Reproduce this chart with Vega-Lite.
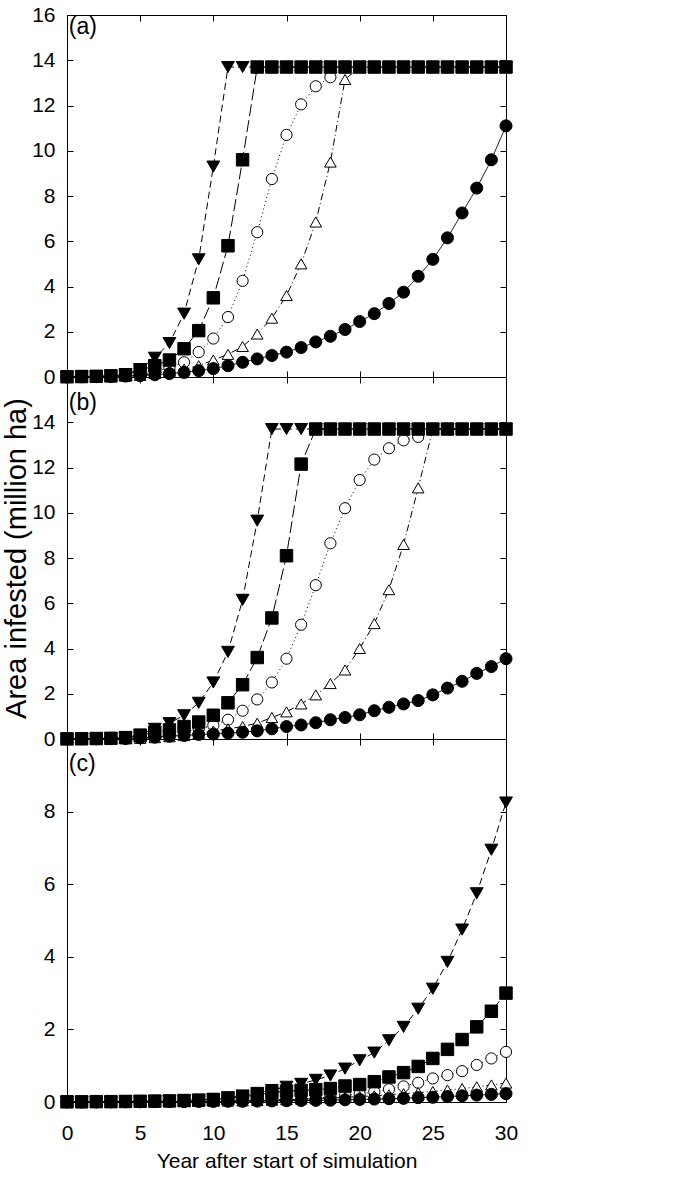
{
"$schema": "https://vega.github.io/schema/vega-lite/v6.json",
"padding": {"left": 2, "top": 3, "right": 5, "bottom": 5},
"background": "white",
"spacing": 0,
"bounds": "flush",
"config": {
  "font": "Liberation Sans",
  "view": {"stroke": "black", "strokeWidth": 1},
  "axis": {"grid": false, "domainColor": "black", "tickColor": "black", "tickSize": -6, "labelFlush": false, "labelColor": "black", "titleColor": "black", "labelFont": "Liberation Sans", "titleFont": "Liberation Sans", "labelFontSize": 21, "titleFontWeight": "normal"}
},
"datasets": {"d": [
{"p":"a","s":"co","t":0,"v":0.005},{"p":"a","s":"co","t":1,"v":0.01},{"p":"a","s":"co","t":2,"v":0.02},{"p":"a","s":"co","t":3,"v":0.03},{"p":"a","s":"co","t":4,"v":0.05},{"p":"a","s":"co","t":5,"v":0.1},{"p":"a","s":"co","t":6,"v":0.25},{"p":"a","s":"co","t":7,"v":0.4},{"p":"a","s":"co","t":8,"v":0.65},{"p":"a","s":"co","t":9,"v":1.1},{"p":"a","s":"co","t":10,"v":1.7},{"p":"a","s":"co","t":11,"v":2.65},{"p":"a","s":"co","t":12,"v":4.25},{"p":"a","s":"co","t":13,"v":6.4},{"p":"a","s":"co","t":14,"v":8.75},{"p":"a","s":"co","t":15,"v":10.7},{"p":"a","s":"co","t":16,"v":12.05},{"p":"a","s":"co","t":17,"v":12.85},{"p":"a","s":"co","t":18,"v":13.25},{"p":"a","s":"co","t":19,"v":13.7},{"p":"a","s":"co","t":20,"v":13.7},{"p":"a","s":"co","t":21,"v":13.7},{"p":"a","s":"co","t":22,"v":13.7},{"p":"a","s":"co","t":23,"v":13.7},{"p":"a","s":"co","t":24,"v":13.7},{"p":"a","s":"co","t":25,"v":13.7},{"p":"a","s":"co","t":26,"v":13.7},{"p":"a","s":"co","t":27,"v":13.7},{"p":"a","s":"co","t":28,"v":13.7},{"p":"a","s":"co","t":29,"v":13.7},{"p":"a","s":"co","t":30,"v":13.7},
{"p":"a","s":"to","t":0,"v":0.005},{"p":"a","s":"to","t":1,"v":0.01},{"p":"a","s":"to","t":2,"v":0.015},{"p":"a","s":"to","t":3,"v":0.02},{"p":"a","s":"to","t":4,"v":0.04},{"p":"a","s":"to","t":5,"v":0.07},{"p":"a","s":"to","t":6,"v":0.15},{"p":"a","s":"to","t":7,"v":0.25},{"p":"a","s":"to","t":8,"v":0.35},{"p":"a","s":"to","t":9,"v":0.5},{"p":"a","s":"to","t":10,"v":0.75},{"p":"a","s":"to","t":11,"v":1.0},{"p":"a","s":"to","t":12,"v":1.35},{"p":"a","s":"to","t":13,"v":1.9},{"p":"a","s":"to","t":14,"v":2.6},{"p":"a","s":"to","t":15,"v":3.6},{"p":"a","s":"to","t":16,"v":5.0},{"p":"a","s":"to","t":17,"v":6.85},{"p":"a","s":"to","t":18,"v":9.5},{"p":"a","s":"to","t":19,"v":13.15},{"p":"a","s":"to","t":20,"v":13.7},{"p":"a","s":"to","t":21,"v":13.7},{"p":"a","s":"to","t":22,"v":13.7},{"p":"a","s":"to","t":23,"v":13.7},{"p":"a","s":"to","t":24,"v":13.7},{"p":"a","s":"to","t":25,"v":13.7},{"p":"a","s":"to","t":26,"v":13.7},{"p":"a","s":"to","t":27,"v":13.7},{"p":"a","s":"to","t":28,"v":13.7},{"p":"a","s":"to","t":29,"v":13.7},{"p":"a","s":"to","t":30,"v":13.7},
{"p":"a","s":"cf","t":0,"v":0.005},{"p":"a","s":"cf","t":1,"v":0.01},{"p":"a","s":"cf","t":2,"v":0.015},{"p":"a","s":"cf","t":3,"v":0.02},{"p":"a","s":"cf","t":4,"v":0.04},{"p":"a","s":"cf","t":5,"v":0.06},{"p":"a","s":"cf","t":6,"v":0.1},{"p":"a","s":"cf","t":7,"v":0.15},{"p":"a","s":"cf","t":8,"v":0.2},{"p":"a","s":"cf","t":9,"v":0.28},{"p":"a","s":"cf","t":10,"v":0.37},{"p":"a","s":"cf","t":11,"v":0.5},{"p":"a","s":"cf","t":12,"v":0.65},{"p":"a","s":"cf","t":13,"v":0.8},{"p":"a","s":"cf","t":14,"v":0.95},{"p":"a","s":"cf","t":15,"v":1.1},{"p":"a","s":"cf","t":16,"v":1.3},{"p":"a","s":"cf","t":17,"v":1.55},{"p":"a","s":"cf","t":18,"v":1.8},{"p":"a","s":"cf","t":19,"v":2.1},{"p":"a","s":"cf","t":20,"v":2.45},{"p":"a","s":"cf","t":21,"v":2.8},{"p":"a","s":"cf","t":22,"v":3.25},{"p":"a","s":"cf","t":23,"v":3.75},{"p":"a","s":"cf","t":24,"v":4.45},{"p":"a","s":"cf","t":25,"v":5.2},{"p":"a","s":"cf","t":26,"v":6.15},{"p":"a","s":"cf","t":27,"v":7.25},{"p":"a","s":"cf","t":28,"v":8.35},{"p":"a","s":"cf","t":29,"v":9.6},{"p":"a","s":"cf","t":30,"v":11.1},
{"p":"a","s":"sq","t":0,"v":0.01},{"p":"a","s":"sq","t":1,"v":0.02},{"p":"a","s":"sq","t":2,"v":0.03},{"p":"a","s":"sq","t":3,"v":0.05},{"p":"a","s":"sq","t":4,"v":0.1},{"p":"a","s":"sq","t":5,"v":0.3},{"p":"a","s":"sq","t":6,"v":0.5},{"p":"a","s":"sq","t":7,"v":0.75},{"p":"a","s":"sq","t":8,"v":1.25},{"p":"a","s":"sq","t":9,"v":2.05},{"p":"a","s":"sq","t":10,"v":3.5},{"p":"a","s":"sq","t":11,"v":5.8},{"p":"a","s":"sq","t":12,"v":9.6},{"p":"a","s":"sq","t":13,"v":13.7},{"p":"a","s":"sq","t":14,"v":13.7},{"p":"a","s":"sq","t":15,"v":13.7},{"p":"a","s":"sq","t":16,"v":13.7},{"p":"a","s":"sq","t":17,"v":13.7},{"p":"a","s":"sq","t":18,"v":13.7},{"p":"a","s":"sq","t":19,"v":13.7},{"p":"a","s":"sq","t":20,"v":13.7},{"p":"a","s":"sq","t":21,"v":13.7},{"p":"a","s":"sq","t":22,"v":13.7},{"p":"a","s":"sq","t":23,"v":13.7},{"p":"a","s":"sq","t":24,"v":13.7},{"p":"a","s":"sq","t":25,"v":13.7},{"p":"a","s":"sq","t":26,"v":13.7},{"p":"a","s":"sq","t":27,"v":13.7},{"p":"a","s":"sq","t":28,"v":13.7},{"p":"a","s":"sq","t":29,"v":13.7},{"p":"a","s":"sq","t":30,"v":13.7},
{"p":"a","s":"td","t":0,"v":0.01},{"p":"a","s":"td","t":1,"v":0.02},{"p":"a","s":"td","t":2,"v":0.03},{"p":"a","s":"td","t":3,"v":0.06},{"p":"a","s":"td","t":4,"v":0.12},{"p":"a","s":"td","t":5,"v":0.35},{"p":"a","s":"td","t":6,"v":0.85},{"p":"a","s":"td","t":7,"v":1.5},{"p":"a","s":"td","t":8,"v":2.8},{"p":"a","s":"td","t":9,"v":5.2},{"p":"a","s":"td","t":10,"v":9.3},{"p":"a","s":"td","t":11,"v":13.7},{"p":"a","s":"td","t":12,"v":13.7},{"p":"a","s":"td","t":13,"v":13.7},{"p":"a","s":"td","t":14,"v":13.7},{"p":"a","s":"td","t":15,"v":13.7},{"p":"a","s":"td","t":16,"v":13.7},{"p":"a","s":"td","t":17,"v":13.7},{"p":"a","s":"td","t":18,"v":13.7},{"p":"a","s":"td","t":19,"v":13.7},{"p":"a","s":"td","t":20,"v":13.7},{"p":"a","s":"td","t":21,"v":13.7},{"p":"a","s":"td","t":22,"v":13.7},{"p":"a","s":"td","t":23,"v":13.7},{"p":"a","s":"td","t":24,"v":13.7},{"p":"a","s":"td","t":25,"v":13.7},{"p":"a","s":"td","t":26,"v":13.7},{"p":"a","s":"td","t":27,"v":13.7},{"p":"a","s":"td","t":28,"v":13.7},{"p":"a","s":"td","t":29,"v":13.7},{"p":"a","s":"td","t":30,"v":13.7},
{"p":"b","s":"co","t":0,"v":0.005},{"p":"b","s":"co","t":1,"v":0.01},{"p":"b","s":"co","t":2,"v":0.015},{"p":"b","s":"co","t":3,"v":0.02},{"p":"b","s":"co","t":4,"v":0.03},{"p":"b","s":"co","t":5,"v":0.05},{"p":"b","s":"co","t":6,"v":0.1},{"p":"b","s":"co","t":7,"v":0.2},{"p":"b","s":"co","t":8,"v":0.3},{"p":"b","s":"co","t":9,"v":0.45},{"p":"b","s":"co","t":10,"v":0.6},{"p":"b","s":"co","t":11,"v":0.85},{"p":"b","s":"co","t":12,"v":1.25},{"p":"b","s":"co","t":13,"v":1.75},{"p":"b","s":"co","t":14,"v":2.5},{"p":"b","s":"co","t":15,"v":3.55},{"p":"b","s":"co","t":16,"v":5.05},{"p":"b","s":"co","t":17,"v":6.8},{"p":"b","s":"co","t":18,"v":8.65},{"p":"b","s":"co","t":19,"v":10.2},{"p":"b","s":"co","t":20,"v":11.45},{"p":"b","s":"co","t":21,"v":12.35},{"p":"b","s":"co","t":22,"v":12.85},{"p":"b","s":"co","t":23,"v":13.2},{"p":"b","s":"co","t":24,"v":13.35},{"p":"b","s":"co","t":25,"v":13.7},{"p":"b","s":"co","t":26,"v":13.7},{"p":"b","s":"co","t":27,"v":13.7},{"p":"b","s":"co","t":28,"v":13.7},{"p":"b","s":"co","t":29,"v":13.7},{"p":"b","s":"co","t":30,"v":13.7},
{"p":"b","s":"to","t":0,"v":0.005},{"p":"b","s":"to","t":1,"v":0.01},{"p":"b","s":"to","t":2,"v":0.01},{"p":"b","s":"to","t":3,"v":0.015},{"p":"b","s":"to","t":4,"v":0.02},{"p":"b","s":"to","t":5,"v":0.03},{"p":"b","s":"to","t":6,"v":0.06},{"p":"b","s":"to","t":7,"v":0.1},{"p":"b","s":"to","t":8,"v":0.15},{"p":"b","s":"to","t":9,"v":0.25},{"p":"b","s":"to","t":10,"v":0.35},{"p":"b","s":"to","t":11,"v":0.45},{"p":"b","s":"to","t":12,"v":0.55},{"p":"b","s":"to","t":13,"v":0.7},{"p":"b","s":"to","t":14,"v":0.95},{"p":"b","s":"to","t":15,"v":1.2},{"p":"b","s":"to","t":16,"v":1.55},{"p":"b","s":"to","t":17,"v":1.95},{"p":"b","s":"to","t":18,"v":2.45},{"p":"b","s":"to","t":19,"v":3.05},{"p":"b","s":"to","t":20,"v":4.0},{"p":"b","s":"to","t":21,"v":5.1},{"p":"b","s":"to","t":22,"v":6.6},{"p":"b","s":"to","t":23,"v":8.6},{"p":"b","s":"to","t":24,"v":11.1},{"p":"b","s":"to","t":25,"v":13.7},{"p":"b","s":"to","t":26,"v":13.7},{"p":"b","s":"to","t":27,"v":13.7},{"p":"b","s":"to","t":28,"v":13.7},{"p":"b","s":"to","t":29,"v":13.7},{"p":"b","s":"to","t":30,"v":13.7},
{"p":"b","s":"cf","t":0,"v":0.005},{"p":"b","s":"cf","t":1,"v":0.01},{"p":"b","s":"cf","t":2,"v":0.01},{"p":"b","s":"cf","t":3,"v":0.015},{"p":"b","s":"cf","t":4,"v":0.02},{"p":"b","s":"cf","t":5,"v":0.05},{"p":"b","s":"cf","t":6,"v":0.08},{"p":"b","s":"cf","t":7,"v":0.12},{"p":"b","s":"cf","t":8,"v":0.16},{"p":"b","s":"cf","t":9,"v":0.2},{"p":"b","s":"cf","t":10,"v":0.22},{"p":"b","s":"cf","t":11,"v":0.26},{"p":"b","s":"cf","t":12,"v":0.3},{"p":"b","s":"cf","t":13,"v":0.36},{"p":"b","s":"cf","t":14,"v":0.45},{"p":"b","s":"cf","t":15,"v":0.55},{"p":"b","s":"cf","t":16,"v":0.62},{"p":"b","s":"cf","t":17,"v":0.72},{"p":"b","s":"cf","t":18,"v":0.85},{"p":"b","s":"cf","t":19,"v":0.95},{"p":"b","s":"cf","t":20,"v":1.07},{"p":"b","s":"cf","t":21,"v":1.25},{"p":"b","s":"cf","t":22,"v":1.4},{"p":"b","s":"cf","t":23,"v":1.55},{"p":"b","s":"cf","t":24,"v":1.7},{"p":"b","s":"cf","t":25,"v":1.95},{"p":"b","s":"cf","t":26,"v":2.25},{"p":"b","s":"cf","t":27,"v":2.55},{"p":"b","s":"cf","t":28,"v":2.9},{"p":"b","s":"cf","t":29,"v":3.2},{"p":"b","s":"cf","t":30,"v":3.55},
{"p":"b","s":"sq","t":0,"v":0.005},{"p":"b","s":"sq","t":1,"v":0.01},{"p":"b","s":"sq","t":2,"v":0.02},{"p":"b","s":"sq","t":3,"v":0.03},{"p":"b","s":"sq","t":4,"v":0.06},{"p":"b","s":"sq","t":5,"v":0.15},{"p":"b","s":"sq","t":6,"v":0.3},{"p":"b","s":"sq","t":7,"v":0.4},{"p":"b","s":"sq","t":8,"v":0.55},{"p":"b","s":"sq","t":9,"v":0.75},{"p":"b","s":"sq","t":10,"v":1.05},{"p":"b","s":"sq","t":11,"v":1.6},{"p":"b","s":"sq","t":12,"v":2.4},{"p":"b","s":"sq","t":13,"v":3.6},{"p":"b","s":"sq","t":14,"v":5.35},{"p":"b","s":"sq","t":15,"v":8.1},{"p":"b","s":"sq","t":16,"v":12.15},{"p":"b","s":"sq","t":17,"v":13.7},{"p":"b","s":"sq","t":18,"v":13.7},{"p":"b","s":"sq","t":19,"v":13.7},{"p":"b","s":"sq","t":20,"v":13.7},{"p":"b","s":"sq","t":21,"v":13.7},{"p":"b","s":"sq","t":22,"v":13.7},{"p":"b","s":"sq","t":23,"v":13.7},{"p":"b","s":"sq","t":24,"v":13.7},{"p":"b","s":"sq","t":25,"v":13.7},{"p":"b","s":"sq","t":26,"v":13.7},{"p":"b","s":"sq","t":27,"v":13.7},{"p":"b","s":"sq","t":28,"v":13.7},{"p":"b","s":"sq","t":29,"v":13.7},{"p":"b","s":"sq","t":30,"v":13.7},
{"p":"b","s":"td","t":0,"v":0.005},{"p":"b","s":"td","t":1,"v":0.01},{"p":"b","s":"td","t":2,"v":0.02},{"p":"b","s":"td","t":3,"v":0.04},{"p":"b","s":"td","t":4,"v":0.08},{"p":"b","s":"td","t":5,"v":0.2},{"p":"b","s":"td","t":6,"v":0.45},{"p":"b","s":"td","t":7,"v":0.7},{"p":"b","s":"td","t":8,"v":1.05},{"p":"b","s":"td","t":9,"v":1.6},{"p":"b","s":"td","t":10,"v":2.5},{"p":"b","s":"td","t":11,"v":3.85},{"p":"b","s":"td","t":12,"v":6.15},{"p":"b","s":"td","t":13,"v":9.65},{"p":"b","s":"td","t":14,"v":13.7},{"p":"b","s":"td","t":15,"v":13.7},{"p":"b","s":"td","t":16,"v":13.7},{"p":"b","s":"td","t":17,"v":13.7},{"p":"b","s":"td","t":18,"v":13.7},{"p":"b","s":"td","t":19,"v":13.7},{"p":"b","s":"td","t":20,"v":13.7},{"p":"b","s":"td","t":21,"v":13.7},{"p":"b","s":"td","t":22,"v":13.7},{"p":"b","s":"td","t":23,"v":13.7},{"p":"b","s":"td","t":24,"v":13.7},{"p":"b","s":"td","t":25,"v":13.7},{"p":"b","s":"td","t":26,"v":13.7},{"p":"b","s":"td","t":27,"v":13.7},{"p":"b","s":"td","t":28,"v":13.7},{"p":"b","s":"td","t":29,"v":13.7},{"p":"b","s":"td","t":30,"v":13.7},
{"p":"c","s":"co","t":0,"v":0},{"p":"c","s":"co","t":1,"v":0},{"p":"c","s":"co","t":2,"v":0.005},{"p":"c","s":"co","t":3,"v":0.005},{"p":"c","s":"co","t":4,"v":0.01},{"p":"c","s":"co","t":5,"v":0.01},{"p":"c","s":"co","t":6,"v":0.01},{"p":"c","s":"co","t":7,"v":0.015},{"p":"c","s":"co","t":8,"v":0.02},{"p":"c","s":"co","t":9,"v":0.025},{"p":"c","s":"co","t":10,"v":0.03},{"p":"c","s":"co","t":11,"v":0.035},{"p":"c","s":"co","t":12,"v":0.04},{"p":"c","s":"co","t":13,"v":0.05},{"p":"c","s":"co","t":14,"v":0.06},{"p":"c","s":"co","t":15,"v":0.07},{"p":"c","s":"co","t":16,"v":0.09},{"p":"c","s":"co","t":17,"v":0.11},{"p":"c","s":"co","t":18,"v":0.14},{"p":"c","s":"co","t":19,"v":0.18},{"p":"c","s":"co","t":20,"v":0.22},{"p":"c","s":"co","t":21,"v":0.28},{"p":"c","s":"co","t":22,"v":0.35},{"p":"c","s":"co","t":23,"v":0.43},{"p":"c","s":"co","t":24,"v":0.53},{"p":"c","s":"co","t":25,"v":0.65},{"p":"c","s":"co","t":26,"v":0.74},{"p":"c","s":"co","t":27,"v":0.85},{"p":"c","s":"co","t":28,"v":1.02},{"p":"c","s":"co","t":29,"v":1.2},{"p":"c","s":"co","t":30,"v":1.38},
{"p":"c","s":"to","t":0,"v":0},{"p":"c","s":"to","t":1,"v":0},{"p":"c","s":"to","t":2,"v":0.005},{"p":"c","s":"to","t":3,"v":0.005},{"p":"c","s":"to","t":4,"v":0.005},{"p":"c","s":"to","t":5,"v":0.01},{"p":"c","s":"to","t":6,"v":0.01},{"p":"c","s":"to","t":7,"v":0.01},{"p":"c","s":"to","t":8,"v":0.015},{"p":"c","s":"to","t":9,"v":0.02},{"p":"c","s":"to","t":10,"v":0.02},{"p":"c","s":"to","t":11,"v":0.025},{"p":"c","s":"to","t":12,"v":0.03},{"p":"c","s":"to","t":13,"v":0.04},{"p":"c","s":"to","t":14,"v":0.05},{"p":"c","s":"to","t":15,"v":0.06},{"p":"c","s":"to","t":16,"v":0.08},{"p":"c","s":"to","t":17,"v":0.09},{"p":"c","s":"to","t":18,"v":0.11},{"p":"c","s":"to","t":19,"v":0.13},{"p":"c","s":"to","t":20,"v":0.15},{"p":"c","s":"to","t":21,"v":0.17},{"p":"c","s":"to","t":22,"v":0.2},{"p":"c","s":"to","t":23,"v":0.23},{"p":"c","s":"to","t":24,"v":0.26},{"p":"c","s":"to","t":25,"v":0.29},{"p":"c","s":"to","t":26,"v":0.33},{"p":"c","s":"to","t":27,"v":0.37},{"p":"c","s":"to","t":28,"v":0.42},{"p":"c","s":"to","t":29,"v":0.47},{"p":"c","s":"to","t":30,"v":0.52},
{"p":"c","s":"cf","t":0,"v":0},{"p":"c","s":"cf","t":1,"v":0},{"p":"c","s":"cf","t":2,"v":0},{"p":"c","s":"cf","t":3,"v":0.005},{"p":"c","s":"cf","t":4,"v":0.005},{"p":"c","s":"cf","t":5,"v":0.005},{"p":"c","s":"cf","t":6,"v":0.01},{"p":"c","s":"cf","t":7,"v":0.01},{"p":"c","s":"cf","t":8,"v":0.01},{"p":"c","s":"cf","t":9,"v":0.015},{"p":"c","s":"cf","t":10,"v":0.015},{"p":"c","s":"cf","t":11,"v":0.02},{"p":"c","s":"cf","t":12,"v":0.02},{"p":"c","s":"cf","t":13,"v":0.025},{"p":"c","s":"cf","t":14,"v":0.03},{"p":"c","s":"cf","t":15,"v":0.035},{"p":"c","s":"cf","t":16,"v":0.04},{"p":"c","s":"cf","t":17,"v":0.045},{"p":"c","s":"cf","t":18,"v":0.05},{"p":"c","s":"cf","t":19,"v":0.06},{"p":"c","s":"cf","t":20,"v":0.07},{"p":"c","s":"cf","t":21,"v":0.08},{"p":"c","s":"cf","t":22,"v":0.09},{"p":"c","s":"cf","t":23,"v":0.1},{"p":"c","s":"cf","t":24,"v":0.12},{"p":"c","s":"cf","t":25,"v":0.13},{"p":"c","s":"cf","t":26,"v":0.15},{"p":"c","s":"cf","t":27,"v":0.17},{"p":"c","s":"cf","t":28,"v":0.19},{"p":"c","s":"cf","t":29,"v":0.21},{"p":"c","s":"cf","t":30,"v":0.23},
{"p":"c","s":"sq","t":0,"v":0.005},{"p":"c","s":"sq","t":1,"v":0.005},{"p":"c","s":"sq","t":2,"v":0.01},{"p":"c","s":"sq","t":3,"v":0.01},{"p":"c","s":"sq","t":4,"v":0.015},{"p":"c","s":"sq","t":5,"v":0.02},{"p":"c","s":"sq","t":6,"v":0.025},{"p":"c","s":"sq","t":7,"v":0.03},{"p":"c","s":"sq","t":8,"v":0.04},{"p":"c","s":"sq","t":9,"v":0.05},{"p":"c","s":"sq","t":10,"v":0.07},{"p":"c","s":"sq","t":11,"v":0.1},{"p":"c","s":"sq","t":12,"v":0.14},{"p":"c","s":"sq","t":13,"v":0.2},{"p":"c","s":"sq","t":14,"v":0.26},{"p":"c","s":"sq","t":15,"v":0.3},{"p":"c","s":"sq","t":16,"v":0.32},{"p":"c","s":"sq","t":17,"v":0.34},{"p":"c","s":"sq","t":18,"v":0.37},{"p":"c","s":"sq","t":19,"v":0.44},{"p":"c","s":"sq","t":20,"v":0.48},{"p":"c","s":"sq","t":21,"v":0.56},{"p":"c","s":"sq","t":22,"v":0.69},{"p":"c","s":"sq","t":23,"v":0.81},{"p":"c","s":"sq","t":24,"v":0.98},{"p":"c","s":"sq","t":25,"v":1.2},{"p":"c","s":"sq","t":26,"v":1.45},{"p":"c","s":"sq","t":27,"v":1.72},{"p":"c","s":"sq","t":28,"v":2.07},{"p":"c","s":"sq","t":29,"v":2.5},{"p":"c","s":"sq","t":30,"v":3.0},
{"p":"c","s":"td","t":0,"v":0.005},{"p":"c","s":"td","t":1,"v":0.005},{"p":"c","s":"td","t":2,"v":0.01},{"p":"c","s":"td","t":3,"v":0.01},{"p":"c","s":"td","t":4,"v":0.015},{"p":"c","s":"td","t":5,"v":0.02},{"p":"c","s":"td","t":6,"v":0.025},{"p":"c","s":"td","t":7,"v":0.03},{"p":"c","s":"td","t":8,"v":0.04},{"p":"c","s":"td","t":9,"v":0.06},{"p":"c","s":"td","t":10,"v":0.08},{"p":"c","s":"td","t":11,"v":0.13},{"p":"c","s":"td","t":12,"v":0.18},{"p":"c","s":"td","t":13,"v":0.25},{"p":"c","s":"td","t":14,"v":0.33},{"p":"c","s":"td","t":15,"v":0.42},{"p":"c","s":"td","t":16,"v":0.5},{"p":"c","s":"td","t":17,"v":0.61},{"p":"c","s":"td","t":18,"v":0.73},{"p":"c","s":"td","t":19,"v":0.92},{"p":"c","s":"td","t":20,"v":1.15},{"p":"c","s":"td","t":21,"v":1.36},{"p":"c","s":"td","t":22,"v":1.7},{"p":"c","s":"td","t":23,"v":2.07},{"p":"c","s":"td","t":24,"v":2.57},{"p":"c","s":"td","t":25,"v":3.12},{"p":"c","s":"td","t":26,"v":3.86},{"p":"c","s":"td","t":27,"v":4.75},{"p":"c","s":"td","t":28,"v":5.75},{"p":"c","s":"td","t":29,"v":6.95},{"p":"c","s":"td","t":30,"v":8.25}
]},
"vconcat": [
{
  "width": 439, "height": 362,
  "data": {"name": "d"},
  "transform": [{"filter": "datum.p === 'a'"}],
  "layer": [
    {"mark": {"type": "line", "strokeWidth": 1, "color": "black"},
     "encoding": {
       "x": {"field": "t", "type": "quantitative", "scale": {"domain": [0, 30], "nice": false}, "axis": {"orient": "bottom", "values": [0,5,10,15,20,25,30], "labels": false, "title": null}},
       "y": {"field": "v", "type": "quantitative", "scale": {"domain": [0, 16], "nice": false}, "axis": {"orient": "left", "values": [0,2,4,6,8,10,12,14,16], "title": null, "labelPadding": 18}},
       "strokeDash": {"field": "s", "type": "nominal", "scale": {"domain": ["co","to","cf","sq","td"], "range": [[1,3],[7,3,1,3],[1,0],[12,4],[7,4]]}, "legend": null}
     }},
    {"mark": {"type": "point", "filled": true, "opacity": 1, "stroke": "black", "strokeWidth": 1},
     "encoding": {
       "x": {"field": "t", "type": "quantitative", "axis": {"orient": "top", "values": [0,5,10,15,20,25,30], "labels": false, "title": null}},
       "y": {"field": "v", "type": "quantitative", "axis": {"orient": "right", "values": [0,2,4,6,8,10,12,14,16], "labels": false, "title": null}},
       "shape": {"field": "s", "type": "nominal", "scale": {"domain": ["co","to","cf","sq","td"], "range": ["circle","triangle-up","circle","square","triangle-down"]}, "legend": null},
       "fill": {"field": "s", "type": "nominal", "scale": {"domain": ["co","to","cf","sq","td"], "range": ["white","white","black","black","black"]}, "legend": null},
       "size": {"field": "s", "type": "nominal", "scale": {"domain": ["co","to","cf","sq","td"], "range": [125,165,125,135,175]}, "legend": null}
     }},
    {"data": {"values": [{}]},
     "mark": {"type": "text", "align": "left", "baseline": "middle", "fontSize": 23, "color": "black"},
     "encoding": {"x": {"datum": 0.12, "type": "quantitative", "axis": null}, "y": {"datum": 15.45, "type": "quantitative", "axis": null}, "text": {"value": "(a)"}}}
  ],
  "resolve": {"axis": {"x": "independent", "y": "independent"}}
},
{
  "width": 439, "height": 362,
  "data": {"name": "d"},
  "transform": [{"filter": "datum.p === 'b'"}],
  "layer": [
    {"mark": {"type": "line", "strokeWidth": 1, "color": "black"},
     "encoding": {
       "x": {"field": "t", "type": "quantitative", "scale": {"domain": [0, 30], "nice": false}, "axis": {"orient": "bottom", "values": [0,5,10,15,20,25,30], "labels": false, "title": null}},
       "y": {"field": "v", "type": "quantitative", "scale": {"domain": [0, 16], "nice": false}, "axis": {"orient": "left", "values": [0,2,4,6,8,10,12,14], "title": "Area infested (million ha)", "titleFontSize": 29, "titlePadding": 0, "labelPadding": 18}},
       "strokeDash": {"field": "s", "type": "nominal", "scale": {"domain": ["co","to","cf","sq","td"], "range": [[1,3],[7,3,1,3],[1,0],[12,4],[7,4]]}, "legend": null}
     }},
    {"mark": {"type": "point", "filled": true, "opacity": 1, "stroke": "black", "strokeWidth": 1},
     "encoding": {
       "x": {"field": "t", "type": "quantitative", "axis": {"orient": "top", "values": [0,5,10,15,20,25,30], "labels": false, "title": null}},
       "y": {"field": "v", "type": "quantitative", "axis": {"orient": "right", "values": [0,2,4,6,8,10,12,14], "labels": false, "title": null}},
       "shape": {"field": "s", "type": "nominal", "scale": {"domain": ["co","to","cf","sq","td"], "range": ["circle","triangle-up","circle","square","triangle-down"]}, "legend": null},
       "fill": {"field": "s", "type": "nominal", "scale": {"domain": ["co","to","cf","sq","td"], "range": ["white","white","black","black","black"]}, "legend": null},
       "size": {"field": "s", "type": "nominal", "scale": {"domain": ["co","to","cf","sq","td"], "range": [125,165,125,135,175]}, "legend": null}
     }},
    {"data": {"values": [{}]},
     "mark": {"type": "text", "align": "left", "baseline": "middle", "fontSize": 23, "color": "black"},
     "encoding": {"x": {"datum": 0.12, "type": "quantitative", "axis": null}, "y": {"datum": 14.85, "type": "quantitative", "axis": null}, "text": {"value": "(b)"}}}
  ],
  "resolve": {"axis": {"x": "independent", "y": "independent"}}
},
{
  "width": 439, "height": 363,
  "data": {"name": "d"},
  "transform": [{"filter": "datum.p === 'c'"}],
  "layer": [
    {"mark": {"type": "line", "strokeWidth": 1, "color": "black"},
     "encoding": {
       "x": {"field": "t", "type": "quantitative", "scale": {"domain": [0, 30], "nice": false}, "axis": {"orient": "bottom", "values": [0,5,10,15,20,25,30], "title": "Year after start of simulation", "titleFontSize": 21, "titlePadding": 7, "labelPadding": 26}},
       "y": {"field": "v", "type": "quantitative", "scale": {"domain": [0, 10], "nice": false}, "axis": {"orient": "left", "values": [0,2,4,6,8], "title": null, "labelPadding": 18}},
       "strokeDash": {"field": "s", "type": "nominal", "scale": {"domain": ["co","to","cf","sq","td"], "range": [[1,3],[7,3,1,3],[1,0],[12,4],[7,4]]}, "legend": null}
     }},
    {"mark": {"type": "point", "filled": true, "opacity": 1, "stroke": "black", "strokeWidth": 1},
     "encoding": {
       "x": {"field": "t", "type": "quantitative", "axis": {"orient": "top", "values": [0,5,10,15,20,25,30], "labels": false, "title": null}},
       "y": {"field": "v", "type": "quantitative", "axis": {"orient": "right", "values": [0,2,4,6,8], "labels": false, "title": null}},
       "shape": {"field": "s", "type": "nominal", "scale": {"domain": ["co","to","cf","sq","td"], "range": ["circle","triangle-up","circle","square","triangle-down"]}, "legend": null},
       "fill": {"field": "s", "type": "nominal", "scale": {"domain": ["co","to","cf","sq","td"], "range": ["white","white","black","black","black"]}, "legend": null},
       "size": {"field": "s", "type": "nominal", "scale": {"domain": ["co","to","cf","sq","td"], "range": [125,165,125,135,175]}, "legend": null}
     }},
    {"data": {"values": [{}]},
     "mark": {"type": "text", "align": "left", "baseline": "middle", "fontSize": 23, "color": "black"},
     "encoding": {"x": {"datum": 0.12, "type": "quantitative", "axis": null}, "y": {"datum": 9.3, "type": "quantitative", "axis": null}, "text": {"value": "(c)"}}}
  ],
  "resolve": {"axis": {"x": "independent", "y": "independent"}}
}
]
}
